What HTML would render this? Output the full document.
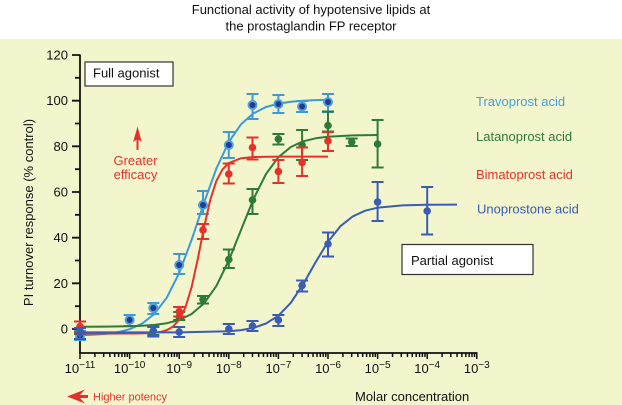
<!DOCTYPE html>
<html><head><meta charset="utf-8"><style>
html,body{margin:0;padding:0;background:#fff;}
svg{display:block;font-family:"Liberation Sans",Arial,sans-serif;}
</style></head><body>
<svg width="622" height="405" viewBox="0 0 622 405" xmlns="http://www.w3.org/2000/svg">
<rect x="0" y="0" width="622" height="405" fill="#ffffff"/>
<rect x="0" y="39" width="622" height="366" fill="#f3f5cc"/>

<!-- Title -->
<text x="311" y="14" font-size="13" text-anchor="middle" fill="#111">Functional activity of hypotensive lipids at</text>
<text x="311" y="30.5" font-size="13" text-anchor="middle" fill="#111">the prostaglandin FP receptor</text>

<!-- Axes -->
<g stroke="#111" stroke-width="1.8" fill="none">
<path d="M80 54.5 V353.5 M79.1 353 H477.5"/>
<path d="M72 329 H80 M72 283.33 H80 M72 237.67 H80 M72 192 H80 M72 146.33 H80 M72 100.67 H80 M72 55 H80"/>
<path d="M75 306.17 H80 M75 260.5 H80 M75 214.83 H80 M75 169.17 H80 M75 123.5 H80 M75 77.83 H80"/>
</g>
<path stroke="#111" stroke-width="1.5" fill="none" d="M80 353
v6 m14.93 -6 v4 m8.74 -4 v4 m6.19 -4 v4 m4.81 -4 v4 m3.93 -4 v4 m3.32 -4 v4 m2.87 -4 v4 m2.54 -4 v4 m2.27 -4
v6 m14.93 -6 v4 m8.74 -4 v4 m6.19 -4 v4 m4.81 -4 v4 m3.93 -4 v4 m3.32 -4 v4 m2.87 -4 v4 m2.54 -4 v4 m2.27 -4
v6 m14.93 -6 v4 m8.74 -4 v4 m6.19 -4 v4 m4.81 -4 v4 m3.93 -4 v4 m3.32 -4 v4 m2.87 -4 v4 m2.54 -4 v4 m2.27 -4
v6 m14.93 -6 v4 m8.74 -4 v4 m6.19 -4 v4 m4.81 -4 v4 m3.93 -4 v4 m3.32 -4 v4 m2.87 -4 v4 m2.54 -4 v4 m2.27 -4
v6 m14.93 -6 v4 m8.74 -4 v4 m6.19 -4 v4 m4.81 -4 v4 m3.93 -4 v4 m3.32 -4 v4 m2.87 -4 v4 m2.54 -4 v4 m2.27 -4
v6 m14.93 -6 v4 m8.74 -4 v4 m6.19 -4 v4 m4.81 -4 v4 m3.93 -4 v4 m3.32 -4 v4 m2.87 -4 v4 m2.54 -4 v4 m2.27 -4
v6 m14.93 -6 v4 m8.74 -4 v4 m6.19 -4 v4 m4.81 -4 v4 m3.93 -4 v4 m3.32 -4 v4 m2.87 -4 v4 m2.54 -4 v4 m2.27 -4
v6 m14.93 -6 v4 m8.74 -4 v4 m6.19 -4 v4 m4.81 -4 v4 m3.93 -4 v4 m3.32 -4 v4 m2.87 -4 v4 m2.54 -4 v4 m2.27 -4
v6"/>

<!-- Y tick labels -->
<g font-size="13" text-anchor="end" fill="#111">
<text x="68" y="333.5">0</text>
<text x="68" y="287.8">20</text>
<text x="68" y="242.2">40</text>
<text x="68" y="196.5">60</text>
<text x="68" y="150.8">80</text>
<text x="68" y="105.2">100</text>
<text x="68" y="59.5">120</text>
</g>
<text transform="translate(33,212.5) rotate(-90)" font-size="13" text-anchor="middle" fill="#111">PI turnover response (% control)</text>

<!-- X tick labels -->
<g font-size="13" text-anchor="middle" fill="#111">
<text x="80" y="373">10<tspan dy="-5" font-size="10">−11</tspan></text>
<text x="129.6" y="373">10<tspan dy="-5" font-size="10">−10</tspan></text>
<text x="179.2" y="373">10<tspan dy="-5" font-size="10">−9</tspan></text>
<text x="228.8" y="373">10<tspan dy="-5" font-size="10">−8</tspan></text>
<text x="278.4" y="373">10<tspan dy="-5" font-size="10">−7</tspan></text>
<text x="328" y="373">10<tspan dy="-5" font-size="10">−6</tspan></text>
<text x="377.6" y="373">10<tspan dy="-5" font-size="10">−5</tspan></text>
<text x="427.2" y="373">10<tspan dy="-5" font-size="10">−4</tspan></text>
<text x="476.8" y="373">10<tspan dy="-5" font-size="10">−3</tspan></text>
</g>
<text x="355" y="401" font-size="13" fill="#111">Molar concentration</text>

<!-- Higher potency -->
<polygon points="67,396.5 85,389.5 80,395 88,395 88,398 80,398 85,403.5" fill="#e4322b"/>
<text x="93" y="400.5" font-size="11" fill="#e4322b">Higher potency</text>

<!-- Greater efficacy -->
<line x1="137.5" y1="137" x2="137.5" y2="150" stroke="#e4322b" stroke-width="2"/>
<polygon points="137.5,126.5 141.8,142 137.5,139 133.2,142" fill="#e4322b"/>
<text x="135.5" y="165" font-size="13" text-anchor="middle" fill="#e4322b">Greater</text>
<text x="135.5" y="179" font-size="13" text-anchor="middle" fill="#e4322b">efficacy</text>

<!-- Boxes -->
<rect x="85" y="62" width="88" height="24" fill="#fff" stroke="#333" stroke-width="1.2"/>
<text x="93" y="77.5" font-size="13" fill="#111">Full agonist</text>
<rect x="402" y="244.5" width="131" height="30" fill="#fff" stroke="#333" stroke-width="1.2"/>
<text x="411" y="265" font-size="13" fill="#111">Partial agonist</text>

<!-- Legend labels -->
<g font-size="13">
<text x="476" y="106" fill="#4a9fd8">Travoprost acid</text>
<text x="476" y="141" fill="#2e7b36">Latanoprost acid</text>
<text x="476" y="179" fill="#e4322b">Bimatoprost acid</text>
<text x="477" y="213.5" fill="#3a5cb5">Unoprostone acid</text>
</g>

<!-- Travoprost -->
<g stroke="#3d9ad8" stroke-width="2" fill="none" stroke-linejoin="round">
<polyline points="80,335.3 92.4,334.8 104.8,334.0 117.2,332.3 129.6,329.2 142,323.7 154.4,313.9 166.8,297.7 179.2,272.9 191.6,239.9 204,202.8 216.4,168.5 228.8,141.9 241.2,124.1 253.6,113.3 266,107.0 278.4,103.6 290.8,101.7 303.2,100.7 315.6,100.1 328,99.8"/>
<path d="M80 331V340M74 331h12M74 340h12
M129.6 315V326M123.6 315h12M123.6 326h12
M153.3 303V314M147.3 303h12M147.3 314h12
M179.2 254V274M173.2 254h12M173.2 274h12
M203 191V214M197 191h12M197 214h12
M228.8 132V158M222.8 132h12M222.8 158h12
M252.5 94V119M246.5 94h12M246.5 119h12
M278.4 95V113M272.4 95h12M272.4 113h12
M302.1 101V112M296.1 101h12M296.1 112h12
M328 94V112M322 94h12M322 112h12"/>
</g>
<g fill="#4aa3e0">
<circle cx="80" cy="336" r="5"/><circle cx="129.6" cy="320" r="5"/><circle cx="153.3" cy="308" r="5"/><circle cx="179.2" cy="265" r="5"/><circle cx="203" cy="205" r="5"/><circle cx="228.8" cy="145" r="5"/><circle cx="252.5" cy="105" r="5"/><circle cx="278.4" cy="104" r="5"/><circle cx="302.1" cy="106.5" r="5"/><circle cx="328" cy="102" r="5"/>
</g>
<g fill="#253a8c">
<circle cx="80" cy="336" r="3"/><circle cx="129.6" cy="320" r="3"/><circle cx="153.3" cy="308" r="3"/><circle cx="179.2" cy="265" r="3"/><circle cx="203" cy="205" r="3"/><circle cx="228.8" cy="145" r="3"/><circle cx="252.5" cy="105" r="3"/><circle cx="278.4" cy="104" r="3"/><circle cx="302.1" cy="106.5" r="3"/><circle cx="328" cy="102" r="3"/>
</g>

<!-- Latanoprost -->
<g stroke="#2e7b36" stroke-width="2" fill="none" stroke-linejoin="round">
<polyline points="80,326.7 104.8,326.6 129.6,326.2 142,325.8 154.4,324.9 166.8,323.2 179.2,320.0 191.6,314.0 204,303.4 216.4,285.9 228.8,260.5 241.2,229.5 253.6,198.8 266,174.0 278.4,157.2 290.8,147.0 303.2,141.3 315.6,138.3 328,136.7 352.8,135.4 377.6,135.0"/>
<path d="M80 328V334M74 328h12M74 334h12
M153.3 327V335M147.3 327h12M147.3 335h12
M179.2 312V320M173.2 312h12M173.2 320h12
M203 296V303.5M197 296h12M197 303.5h12
M228.8 249.5V268M222.8 249.5h12M222.8 268h12
M252.5 189V214M246.5 189h12M246.5 214h12
M278.4 134V144.5M272.4 134h12M272.4 144.5h12
M302.1 130V160M296.1 130h12M296.1 160h12
M328 111.5V131.5M322 111.5h12M322 131.5h12
M351.7 138.5V146M345.7 138.5h12M345.7 146h12
M377.6 120V167.5M371.6 120h12M371.6 167.5h12"/>
</g>
<g fill="#2e7b36">
<circle cx="80" cy="331" r="3.8"/><circle cx="153.3" cy="331" r="3.8"/><circle cx="179.2" cy="317" r="3.8"/><circle cx="203" cy="299.5" r="3.8"/><circle cx="228.8" cy="259.5" r="3.8"/><circle cx="252.5" cy="200" r="3.8"/><circle cx="278.4" cy="139" r="3.8"/><circle cx="302.1" cy="145" r="3.8"/><circle cx="328" cy="125.5" r="3.8"/><circle cx="351.7" cy="142" r="3.8"/><circle cx="377.6" cy="144" r="3.8"/>
</g>

<!-- Bimatoprost -->
<g stroke="#e4322b" stroke-width="2" fill="none" stroke-linejoin="round">
<polyline points="80,333.6 129.6,333.5 142,333.4 154.4,332.7 160.6,331.9 166.8,330.1 173,326.6 179.2,319.8 185.4,307.5 191.6,287.2 197.8,259.0 204,227.5 210.2,200.1 216.4,180.8 222.6,169.3 228.8,163.0 241.2,158.2 253.6,157.0 278.4,156.6 328,156.6"/>
<path d="M80 321.5V332M74 321.5h12M74 332h12
M179.2 307V316.5M173.2 307h12M173.2 316.5h12
M203 224V239M197 224h12M197 239h12
M228.8 163.5V183.5M222.8 163.5h12M222.8 183.5h12
M252.5 137.5V159.5M246.5 137.5h12M246.5 159.5h12
M278.4 160V183M272.4 160h12M272.4 183h12
M302.1 147.5V176M296.1 147.5h12M296.1 176h12
M328 132V151M322 132h12M322 151h12"/>
</g>
<g fill="#e4322b">
<circle cx="80" cy="326.5" r="3.8"/><circle cx="179.2" cy="311.5" r="3.8"/><circle cx="203" cy="230" r="3.8"/><circle cx="228.8" cy="174" r="3.8"/><circle cx="252.5" cy="147.5" r="3.8"/><circle cx="278.4" cy="171.5" r="3.8"/><circle cx="302.1" cy="162.5" r="3.8"/><circle cx="328" cy="141" r="3.8"/>
</g>

<!-- Unoprostone -->
<g stroke="#3a5cb5" stroke-width="2" fill="none" stroke-linejoin="round">
<polyline points="80,332.4 179.2,332.4 228.8,331.3 241.2,330.1 253.6,327.8 266,323.5 278.4,315.7 290.8,302.8 303.2,284.2 315.6,262.3 328,241.7 340.4,226.2 352.8,216.4 365.2,210.7 377.6,207.7 402.4,205.4 427.2,204.8 457,204.6"/>
<path d="M80 328V339M74 328h12M74 339h12
M153.3 326V336.5M147.3 326h12M147.3 336.5h12
M179.2 327V337M173.2 327h12M173.2 337h12
M228.8 324V334M222.8 324h12M222.8 334h12
M252.5 321V331M246.5 321h12M246.5 331h12
M278.4 315V326M272.4 315h12M272.4 326h12
M302.1 280.5V291.5M296.1 280.5h12M296.1 291.5h12
M328 232.5V256.5M322 232.5h12M322 256.5h12
M377.6 182V221M371.6 182h12M371.6 221h12
M427.2 187V234.5M421.2 187h12M421.2 234.5h12"/>
</g>
<g fill="#3a5cb5">
<circle cx="80" cy="333" r="3.8"/><circle cx="153.3" cy="331" r="3.8"/><circle cx="179.2" cy="332" r="3.8"/><circle cx="228.8" cy="329" r="3.8"/><circle cx="252.5" cy="326" r="3.8"/><circle cx="278.4" cy="320" r="3.8"/><circle cx="302.1" cy="285.5" r="3.8"/><circle cx="328" cy="244" r="3.8"/><circle cx="377.6" cy="202" r="3.8"/><circle cx="427.2" cy="211" r="3.8"/>
</g>
</svg>
</body></html>
